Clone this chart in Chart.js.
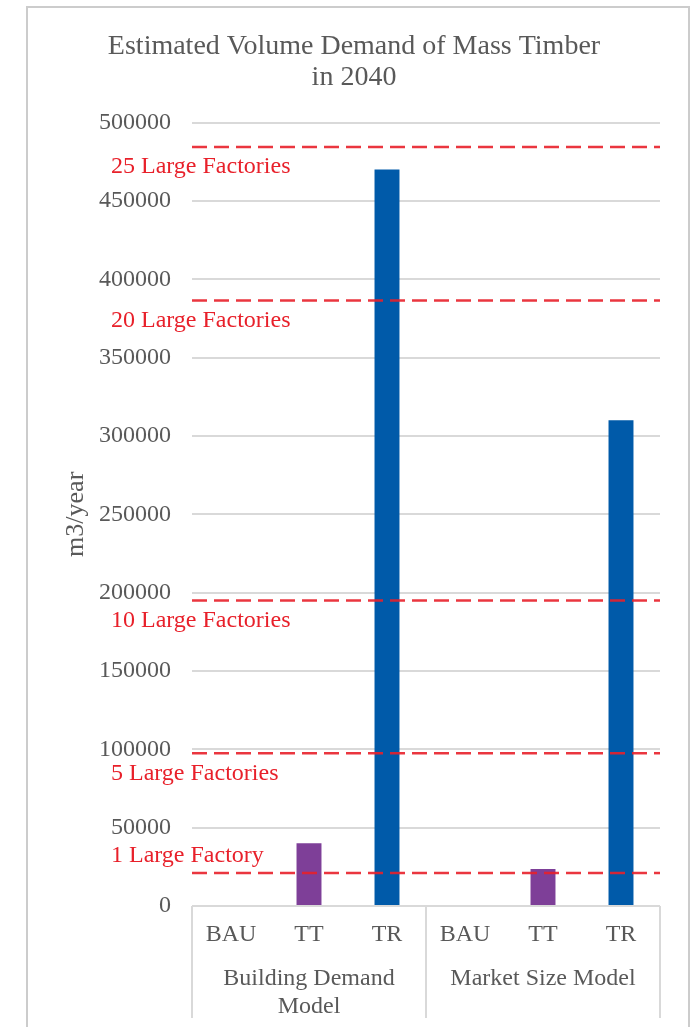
<!DOCTYPE html>
<html>
<head>
<meta charset="utf-8">
<title>Estimated Volume Demand of Mass Timber in 2040</title>
<script src="https://cdn.jsdelivr.net/npm/chart.js@4.4.1/dist/chart.umd.min.js"></script>
<style>
  html, body { margin: 0; padding: 0; background: #fff; }
  #wrap { width: 697px; height: 1027px; }
</style>
</head>
<body>
<div id="wrap"><canvas id="mass-timber-chart" width="697" height="1027"></canvas></div>
<script>
// datos
const scenarios = ['BAU', 'TT', 'TR', 'BAU', 'TT', 'TR'];
const models = [['Building Demand', 'Model'], 'Market Size Model'];
const demand = [0, 40000, 470000, 0, 23600, 310000];
const barColors = ['#7E3F98', '#7E3F98', '#005AA9', '#7E3F98', '#7E3F98', '#005AA9'];
const factoryLevels = [21000, 97500, 195000, 386500, 484500];
const factoryLabels = ['1 Large Factory', '5 Large Factories', '10 Large Factories', '20 Large Factories', '25 Large Factories'];
const yMax = 500000;
const yStep = 50000;

const SERIF = "'Liberation Serif', 'Times New Roman', serif";
const GREY_TEXT = '#595959';
const GRID = '#d9d9d9';
const RED = '#E8202A';

// marco exterior + separadores del eje de categorias
const framePlugin = {
  id: 'frame',
  beforeDraw(chart) {
    const ctx = chart.ctx;
    ctx.save();
    ctx.strokeStyle = '#cccccc';
    ctx.lineWidth = 2;
    ctx.strokeRect(27, 7, 662, 1100);
    ctx.restore();
  },
  afterDraw(chart) {
    const ctx = chart.ctx;
    const xScale = chart.scales.x;
    const area = chart.chartArea;
    const mid = (xScale.getPixelForValue(2) + xScale.getPixelForValue(3)) / 2;
    ctx.save();
    ctx.strokeStyle = GRID;
    ctx.lineWidth = 2;
    [area.left, mid, area.right].forEach(function(px) {
      ctx.beginPath();
      ctx.moveTo(px, area.bottom);
      ctx.lineTo(px, 1018);
      ctx.stroke();
    });
    ctx.restore();
  }
};

// lineas de capacidad de fabricas
const factoryPlugin = {
  id: 'factories',
  afterDatasetsDraw(chart) {
    const ctx = chart.ctx;
    const yScale = chart.scales.y;
    const area = chart.chartArea;
    ctx.save();
    for (let i = 0; i < factoryLevels.length; i++) {
      const y = yScale.getPixelForValue(factoryLevels[i]);
      ctx.beginPath();
      ctx.strokeStyle = 'rgba(232, 32, 42, 0.9)';
      ctx.lineWidth = 2.5;
      ctx.setLineDash([15, 7]);
      ctx.moveTo(area.left, y);
      ctx.lineTo(area.right, y);
      ctx.stroke();

      ctx.setLineDash([]);
      ctx.fillStyle = RED;
      ctx.font = '24px ' + SERIF;
      ctx.textAlign = 'left';
      ctx.textBaseline = 'middle';
      // la primera etiqueta va encima de su linea, las demas debajo
      const dy = i === 0 ? -17 : 20;
      ctx.fillText(factoryLabels[i], 111, y + dy);
    }
    ctx.restore();
  }
};

new Chart(document.getElementById('mass-timber-chart'), {
  type: 'bar',
  data: {
    labels: scenarios,
    datasets: [{
      label: 'm3/year',
      data: demand,
      backgroundColor: barColors,
      borderWidth: 0,
      categoryPercentage: 1,
      barPercentage: 0.32
    }]
  },
  options: {
    responsive: false,
    animation: false,
    layout: { padding: { left: 48, right: 37, top: 7, bottom: 0 } },
    plugins: {
      legend: { display: false },
      tooltip: { enabled: false },
      title: {
        display: true,
        text: ['Estimated Volume Demand of Mass Timber', 'in 2040'],
        color: GREY_TEXT,
        font: { family: SERIF, size: 28, weight: 'normal', lineHeight: 1.1 },
        padding: { top: 24, bottom: 30 }
      }
    },
    scales: {
      y: {
        min: 0,
        max: yMax,
        ticks: {
          stepSize: yStep,
          color: GREY_TEXT,
          padding: 21,
          font: { family: SERIF, size: 24 },
          callback: function(value) { return String(value); }
        },
        grid: { color: GRID, lineWidth: 2, drawTicks: false },
        border: { display: false },
        title: {
          display: true,
          text: 'm3/year',
          color: GREY_TEXT,
          font: { family: SERIF, size: 26 },
          padding: { top: 13, bottom: 0 }
        },
        afterFit: function(scale) { scale.width = 144; }
      },
      x: {
        ticks: {
          color: GREY_TEXT,
          padding: 14,
          font: { family: SERIF, size: 24 }
        },
        grid: { display: false, drawTicks: false },
        border: { display: false },
        afterFit: function(scale) { scale.height = 41; }
      },
      x2: {
        type: 'category',
        position: 'bottom',
        labels: models,
        ticks: {
          color: GREY_TEXT,
          padding: 18,
          font: { family: SERIF, size: 24, lineHeight: 1.15 }
        },
        grid: { display: false, drawTicks: false },
        border: { display: false },
        afterFit: function(scale) { scale.height = 80; }
      }
    }
  },
  plugins: [framePlugin, factoryPlugin]
});
</script>
</body>
</html>
